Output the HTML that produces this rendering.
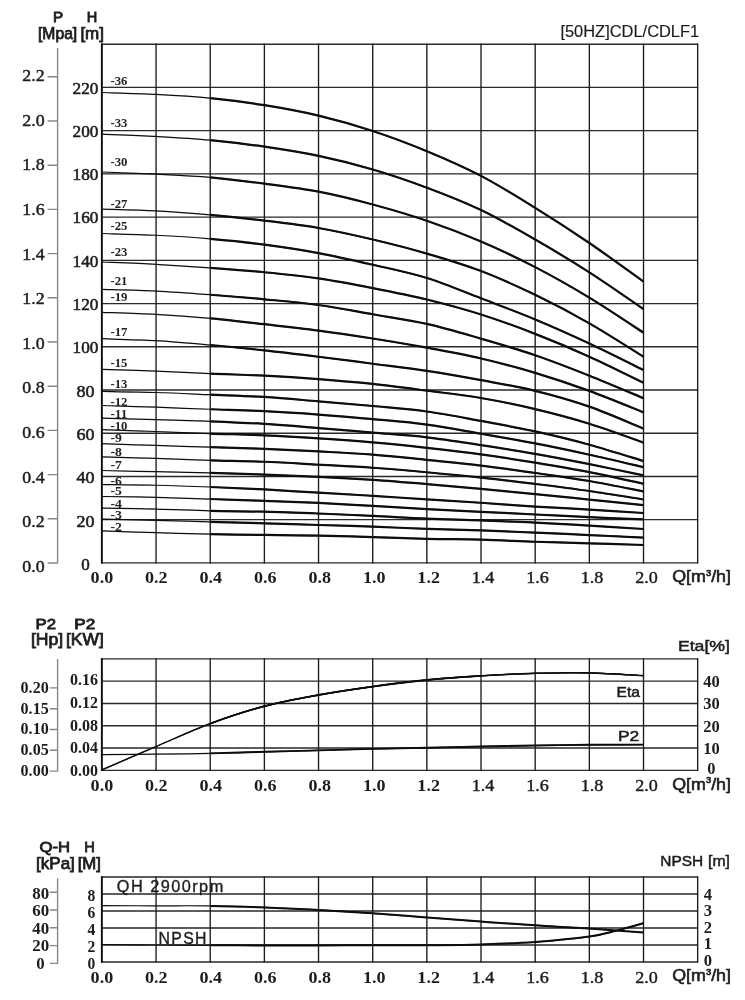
<!DOCTYPE html>
<html lang="en"><head><meta charset="utf-8"><title>CDL/CDLF1 50HZ performance curves</title>
<style>
html,body{margin:0;padding:0;background:#fff}
body{width:745px;height:1000px;overflow:hidden}
svg{display:block}
.fs{font-family:"Liberation Serif","DejaVu Serif",serif}
.fn{font-family:"Liberation Sans","DejaVu Sans",sans-serif}
</style></head><body>
<svg width="745" height="1000" viewBox="0 0 745 1000">
<rect width="745" height="1000" fill="#fff"/>
<defs><filter id="soft" x="0" y="0" width="745" height="1000" filterUnits="userSpaceOnUse"><feGaussianBlur stdDeviation="0.4"/></filter></defs>
<g filter="url(#soft)">
<path d="M101.4 562.9H698.16M101.4 519.67H698.16M101.4 476.45H698.16M101.4 433.23H698.16M101.4 390H698.16M101.4 346.77H698.16M101.4 303.55H698.16M101.4 260.32H698.16M101.4 217.1H698.16M101.4 173.88H698.16M101.4 130.65H698.16M101.4 87.43H698.16M101.4 44.2H698.16" fill="none" stroke="#2a2a2a" stroke-width="1.35"/>
<path d="M101.9 43.6V563.5M156.06 43.6V563.5M210.22 43.6V563.5M264.38 43.6V563.5M318.54 43.6V563.5M372.7 43.6V563.5M426.86 43.6V563.5M481.02 43.6V563.5M535.18 43.6V563.5M589.34 43.6V563.5M643.5 43.6V563.5M697.66 43.6V563.5" fill="none" stroke="#1c1c1c" stroke-width="1.35"/>
<path d="M101.75 43.6V563.5" fill="none" stroke="#0c0c0c" stroke-width="1.7"/>
<defs><clipPath id="c4"><rect x="210.22" y="0" width="433.58" height="1000"/></clipPath></defs>
<path d="M101.9 92.5C110.93 92.82 138.01 93.48 156.06 94.43C174.11 95.37 192.17 96.4 210.22 98.19C228.27 99.98 246.33 102.27 264.38 105.18C282.43 108.09 300.49 111.33 318.54 115.64C336.59 119.94 354.65 125.06 372.7 130.98C390.75 136.91 408.81 143.7 426.86 151.18C444.91 158.67 462.97 166.43 481.02 175.88C499.07 185.33 517.13 196.68 535.18 207.87C553.23 219.06 571.29 230.73 589.34 243.01C607.39 255.3 634.47 275.17 643.5 281.6M101.9 134.1C110.93 134.49 138.01 135.44 156.06 136.44C174.11 137.44 192.17 138.41 210.22 140.12C228.27 141.84 246.33 144.08 264.38 146.71C282.43 149.35 300.49 152.13 318.54 155.92C336.59 159.71 354.65 164.16 372.7 169.45C390.75 174.74 408.81 180.91 426.86 187.68C444.91 194.45 462.97 201.41 481.02 210.06C499.07 218.7 517.13 229.18 535.18 239.56C553.23 249.94 571.29 260.74 589.34 272.33C607.39 283.92 634.47 302.97 643.5 309.1M101.9 172C110.93 172.36 138.01 173.27 156.06 174.16C174.11 175.04 192.17 175.75 210.22 177.32C228.27 178.9 246.33 181.23 264.38 183.62C282.43 186.01 300.49 188.19 318.54 191.68C336.59 195.16 354.65 199.65 372.7 204.5C390.75 209.36 408.81 214.61 426.86 220.78C444.91 226.95 462.97 233.82 481.02 241.54C499.07 249.27 517.13 257.78 535.18 267.13C553.23 276.48 571.29 286.72 589.34 297.65C607.39 308.58 634.47 326.86 643.5 332.7M101.9 209.1C110.93 209.4 138.01 209.93 156.06 210.88C174.11 211.83 192.17 213.19 210.22 214.8C228.27 216.42 246.33 218.36 264.38 220.57C282.43 222.77 300.49 224.86 318.54 228.01C336.59 231.16 354.65 235.21 372.7 239.47C390.75 243.73 408.81 248.31 426.86 253.57C444.91 258.83 462.97 264.14 481.02 271.02C499.07 277.9 517.13 286.12 535.18 294.84C553.23 303.56 571.29 313.03 589.34 323.34C607.39 333.65 634.47 351.14 643.5 356.7M101.9 233.5C110.93 233.79 138.01 234.36 156.06 235.25C174.11 236.14 192.17 237.28 210.22 238.84C228.27 240.4 246.33 242.24 264.38 244.61C282.43 246.98 300.49 249.7 318.54 253.05C336.59 256.4 354.65 260.54 372.7 264.7C390.75 268.86 408.81 272.39 426.86 278C444.91 283.61 462.97 291.44 481.02 298.34C499.07 305.25 517.13 311.89 535.18 319.41C553.23 326.93 571.29 335.03 589.34 343.46C607.39 351.89 634.47 365.58 643.5 370M101.9 262C110.93 262.39 138.01 263.35 156.06 264.34C174.11 265.32 192.17 266.59 210.22 267.91C228.27 269.23 246.33 270.52 264.38 272.27C282.43 274.03 300.49 275.8 318.54 278.43C336.59 281.06 354.65 284.55 372.7 288.07C390.75 291.59 408.81 295.13 426.86 299.54C444.91 303.94 462.97 308.79 481.02 314.51C499.07 320.23 517.13 326.83 535.18 333.86C553.23 340.88 571.29 348.5 589.34 356.66C607.39 364.82 634.47 378.44 643.5 382.8M101.9 289.4C110.93 289.68 138.01 290.19 156.06 291.08C174.11 291.97 192.17 293.36 210.22 294.74C228.27 296.11 246.33 297.61 264.38 299.32C282.43 301.03 300.49 302.52 318.54 305.01C336.59 307.5 354.65 311.12 372.7 314.27C390.75 317.43 408.81 319.86 426.86 323.92C444.91 327.98 462.97 333.42 481.02 338.64C499.07 343.87 517.13 349.09 535.18 355.26C553.23 361.43 571.29 368.52 589.34 375.67C607.39 382.83 634.47 394.45 643.5 398.2M101.9 312.3C110.93 312.65 138.01 313.38 156.06 314.39C174.11 315.41 192.17 316.76 210.22 318.39C228.27 320.02 246.33 322.15 264.38 324.17C282.43 326.2 300.49 328.18 318.54 330.57C336.59 332.96 354.65 335.66 372.7 338.51C390.75 341.36 408.81 344.36 426.86 347.69C444.91 351.02 462.97 354.28 481.02 358.47C499.07 362.66 517.13 367.43 535.18 372.83C553.23 378.24 571.29 384.31 589.34 390.9C607.39 397.5 634.47 408.82 643.5 412.4M101.9 338.7C110.93 339.02 138.01 339.59 156.06 340.64C174.11 341.7 192.17 343.41 210.22 345.02C228.27 346.63 246.33 348.37 264.38 350.32C282.43 352.28 300.49 354.52 318.54 356.76C336.59 358.99 354.65 361.37 372.7 363.72C390.75 366.08 408.81 368.13 426.86 370.86C444.91 373.59 462.97 376.78 481.02 380.11C499.07 383.44 517.13 386.42 535.18 390.84C553.23 395.26 571.29 400.33 589.34 406.62C607.39 412.92 634.47 424.94 643.5 428.6M101.9 369.3C110.93 369.6 138.01 370.38 156.06 371.11C174.11 371.84 192.17 372.93 210.22 373.69C228.27 374.44 246.33 374.76 264.38 375.66C282.43 376.55 300.49 377.69 318.54 379.07C336.59 380.44 354.65 381.97 372.7 383.91C390.75 385.84 408.81 388.31 426.86 390.67C444.91 393.02 462.97 394.95 481.02 398.04C499.07 401.12 517.13 404.87 535.18 409.17C553.23 413.46 571.29 418.22 589.34 423.79C607.39 429.37 634.47 439.47 643.5 442.6M101.9 391.4C110.93 391.58 138.01 391.96 156.06 392.5C174.11 393.04 192.17 393.91 210.22 394.65C228.27 395.39 246.33 395.83 264.38 396.94C282.43 398.06 300.49 399.83 318.54 401.34C336.59 402.85 354.65 404.3 372.7 405.99C390.75 407.69 408.81 409.02 426.86 411.52C444.91 414.01 462.97 417.63 481.02 420.95C499.07 424.27 517.13 427.49 535.18 431.44C553.23 435.4 571.29 439.75 589.34 444.69C607.39 449.63 634.47 458.36 643.5 461.1M101.9 405.5C110.93 405.79 138.01 406.62 156.06 407.24C174.11 407.87 192.17 408.59 210.22 409.25C228.27 409.91 246.33 410.32 264.38 411.21C282.43 412.09 300.49 413.26 318.54 414.57C336.59 415.89 354.65 417.44 372.7 419.1C390.75 420.77 408.81 422.13 426.86 424.57C444.91 427.01 462.97 430.59 481.02 433.74C499.07 436.89 517.13 439.95 535.18 443.45C553.23 446.94 571.29 450.77 589.34 454.71C607.39 458.65 634.47 465.03 643.5 467.1M101.9 418.2C110.93 418.44 138.01 419.09 156.06 419.61C174.11 420.13 192.17 420.59 210.22 421.3C228.27 422.02 246.33 422.77 264.38 423.9C282.43 425.02 300.49 426.6 318.54 428.05C336.59 429.5 354.65 431.04 372.7 432.58C390.75 434.12 408.81 435.2 426.86 437.29C444.91 439.38 462.97 442.37 481.02 445.13C499.07 447.89 517.13 450.69 535.18 453.86C553.23 457.03 571.29 460.55 589.34 464.14C607.39 467.73 634.47 473.52 643.5 475.4M101.9 429.6C110.93 429.92 138.01 430.83 156.06 431.5C174.11 432.16 192.17 432.93 210.22 433.57C228.27 434.2 246.33 434.51 264.38 435.31C282.43 436.11 300.49 437.18 318.54 438.35C336.59 439.52 354.65 440.76 372.7 442.34C390.75 443.91 408.81 445.8 426.86 447.81C444.91 449.82 462.97 451.9 481.02 454.37C499.07 456.85 517.13 459.69 535.18 462.65C553.23 465.61 571.29 468.61 589.34 472.14C607.39 475.66 634.47 481.86 643.5 483.8M101.9 443.7C110.93 443.98 138.01 444.82 156.06 445.4C174.11 445.99 192.17 446.63 210.22 447.2C228.27 447.77 246.33 448.14 264.38 448.84C282.43 449.54 300.49 450.47 318.54 451.42C336.59 452.38 354.65 453.19 372.7 454.59C390.75 455.99 408.81 458.02 426.86 459.84C444.91 461.67 462.97 463.36 481.02 465.55C499.07 467.74 517.13 470.41 535.18 472.97C553.23 475.54 571.29 477.87 589.34 480.96C607.39 484.04 634.47 489.74 643.5 491.5M101.9 456.8C110.93 457.07 138.01 457.87 156.06 458.45C174.11 459.03 192.17 459.74 210.22 460.28C228.27 460.83 246.33 461.02 264.38 461.74C282.43 462.47 300.49 463.64 318.54 464.65C336.59 465.65 354.65 466.5 372.7 467.77C390.75 469.03 408.81 470.62 426.86 472.26C444.91 473.89 462.97 475.61 481.02 477.56C499.07 479.51 517.13 481.71 535.18 483.95C553.23 486.19 571.29 488.43 589.34 491.02C607.39 493.61 634.47 498.09 643.5 499.5M101.9 470.5C110.93 470.7 138.01 471.29 156.06 471.7C174.11 472.1 192.17 472.42 210.22 472.91C228.27 473.4 246.33 474 264.38 474.65C282.43 475.3 300.49 475.95 318.54 476.82C336.59 477.69 354.65 478.66 372.7 479.87C390.75 481.07 408.81 482.57 426.86 484.06C444.91 485.54 462.97 487.1 481.02 488.78C499.07 490.46 517.13 492.36 535.18 494.16C553.23 495.96 571.29 497.73 589.34 499.57C607.39 501.41 634.47 504.26 643.5 505.2M101.9 484.6C110.93 484.71 138.01 484.85 156.06 485.25C174.11 485.65 192.17 486.3 210.22 487C228.27 487.7 246.33 488.49 264.38 489.44C282.43 490.39 300.49 491.65 318.54 492.72C336.59 493.78 354.65 494.73 372.7 495.84C390.75 496.95 408.81 498.24 426.86 499.4C444.91 500.55 462.97 501.57 481.02 502.77C499.07 503.97 517.13 505.44 535.18 506.58C553.23 507.71 571.29 508.5 589.34 509.57C607.39 510.64 634.47 512.43 643.5 513M101.9 496.5C110.93 496.65 138.01 496.96 156.06 497.38C174.11 497.8 192.17 498.44 210.22 499.01C228.27 499.58 246.33 500.15 264.38 500.81C282.43 501.47 300.49 502.1 318.54 502.95C336.59 503.8 354.65 504.88 372.7 505.91C390.75 506.94 408.81 508.16 426.86 509.14C444.91 510.12 462.97 510.9 481.02 511.79C499.07 512.68 517.13 513.58 535.18 514.48C553.23 515.38 571.29 516.39 589.34 517.21C607.39 518.03 634.47 519.03 643.5 519.4M101.9 508.1C110.93 508.25 138.01 508.55 156.06 509.02C174.11 509.49 192.17 510.47 210.22 510.92C228.27 511.37 246.33 511.27 264.38 511.7C282.43 512.13 300.49 512.82 318.54 513.52C336.59 514.23 354.65 515.06 372.7 515.91C390.75 516.77 408.81 517.93 426.86 518.67C444.91 519.4 462.97 519.66 481.02 520.3C499.07 520.95 517.13 521.66 535.18 522.54C553.23 523.41 571.29 524.47 589.34 525.55C607.39 526.62 634.47 528.42 643.5 529M101.9 519.2C110.93 519.39 138.01 519.93 156.06 520.36C174.11 520.79 192.17 521.29 210.22 521.79C228.27 522.28 246.33 522.77 264.38 523.31C282.43 523.85 300.49 524.44 318.54 525C336.59 525.56 354.65 526.02 372.7 526.66C390.75 527.31 408.81 528.24 426.86 528.87C444.91 529.5 462.97 529.84 481.02 530.47C499.07 531.09 517.13 531.86 535.18 532.63C553.23 533.4 571.29 534.23 589.34 535.06C607.39 535.89 634.47 537.18 643.5 537.6M101.9 530.9C110.93 531.21 138.01 532.19 156.06 532.74C174.11 533.29 192.17 533.83 210.22 534.2C228.27 534.56 246.33 534.69 264.38 534.94C282.43 535.18 300.49 535.31 318.54 535.66C336.59 536.02 354.65 536.56 372.7 537.09C390.75 537.62 408.81 538.43 426.86 538.85C444.91 539.28 462.97 539.18 481.02 539.66C499.07 540.14 517.13 541.14 535.18 541.76C553.23 542.37 571.29 542.81 589.34 543.35C607.39 543.89 634.47 544.72 643.5 545" fill="none" stroke="#0a0a0a" stroke-width="1.25"/>
<path d="M101.9 92.5C110.93 92.82 138.01 93.48 156.06 94.43C174.11 95.37 192.17 96.4 210.22 98.19C228.27 99.98 246.33 102.27 264.38 105.18C282.43 108.09 300.49 111.33 318.54 115.64C336.59 119.94 354.65 125.06 372.7 130.98C390.75 136.91 408.81 143.7 426.86 151.18C444.91 158.67 462.97 166.43 481.02 175.88C499.07 185.33 517.13 196.68 535.18 207.87C553.23 219.06 571.29 230.73 589.34 243.01C607.39 255.3 634.47 275.17 643.5 281.6M101.9 134.1C110.93 134.49 138.01 135.44 156.06 136.44C174.11 137.44 192.17 138.41 210.22 140.12C228.27 141.84 246.33 144.08 264.38 146.71C282.43 149.35 300.49 152.13 318.54 155.92C336.59 159.71 354.65 164.16 372.7 169.45C390.75 174.74 408.81 180.91 426.86 187.68C444.91 194.45 462.97 201.41 481.02 210.06C499.07 218.7 517.13 229.18 535.18 239.56C553.23 249.94 571.29 260.74 589.34 272.33C607.39 283.92 634.47 302.97 643.5 309.1M101.9 172C110.93 172.36 138.01 173.27 156.06 174.16C174.11 175.04 192.17 175.75 210.22 177.32C228.27 178.9 246.33 181.23 264.38 183.62C282.43 186.01 300.49 188.19 318.54 191.68C336.59 195.16 354.65 199.65 372.7 204.5C390.75 209.36 408.81 214.61 426.86 220.78C444.91 226.95 462.97 233.82 481.02 241.54C499.07 249.27 517.13 257.78 535.18 267.13C553.23 276.48 571.29 286.72 589.34 297.65C607.39 308.58 634.47 326.86 643.5 332.7M101.9 209.1C110.93 209.4 138.01 209.93 156.06 210.88C174.11 211.83 192.17 213.19 210.22 214.8C228.27 216.42 246.33 218.36 264.38 220.57C282.43 222.77 300.49 224.86 318.54 228.01C336.59 231.16 354.65 235.21 372.7 239.47C390.75 243.73 408.81 248.31 426.86 253.57C444.91 258.83 462.97 264.14 481.02 271.02C499.07 277.9 517.13 286.12 535.18 294.84C553.23 303.56 571.29 313.03 589.34 323.34C607.39 333.65 634.47 351.14 643.5 356.7M101.9 233.5C110.93 233.79 138.01 234.36 156.06 235.25C174.11 236.14 192.17 237.28 210.22 238.84C228.27 240.4 246.33 242.24 264.38 244.61C282.43 246.98 300.49 249.7 318.54 253.05C336.59 256.4 354.65 260.54 372.7 264.7C390.75 268.86 408.81 272.39 426.86 278C444.91 283.61 462.97 291.44 481.02 298.34C499.07 305.25 517.13 311.89 535.18 319.41C553.23 326.93 571.29 335.03 589.34 343.46C607.39 351.89 634.47 365.58 643.5 370M101.9 262C110.93 262.39 138.01 263.35 156.06 264.34C174.11 265.32 192.17 266.59 210.22 267.91C228.27 269.23 246.33 270.52 264.38 272.27C282.43 274.03 300.49 275.8 318.54 278.43C336.59 281.06 354.65 284.55 372.7 288.07C390.75 291.59 408.81 295.13 426.86 299.54C444.91 303.94 462.97 308.79 481.02 314.51C499.07 320.23 517.13 326.83 535.18 333.86C553.23 340.88 571.29 348.5 589.34 356.66C607.39 364.82 634.47 378.44 643.5 382.8M101.9 289.4C110.93 289.68 138.01 290.19 156.06 291.08C174.11 291.97 192.17 293.36 210.22 294.74C228.27 296.11 246.33 297.61 264.38 299.32C282.43 301.03 300.49 302.52 318.54 305.01C336.59 307.5 354.65 311.12 372.7 314.27C390.75 317.43 408.81 319.86 426.86 323.92C444.91 327.98 462.97 333.42 481.02 338.64C499.07 343.87 517.13 349.09 535.18 355.26C553.23 361.43 571.29 368.52 589.34 375.67C607.39 382.83 634.47 394.45 643.5 398.2M101.9 312.3C110.93 312.65 138.01 313.38 156.06 314.39C174.11 315.41 192.17 316.76 210.22 318.39C228.27 320.02 246.33 322.15 264.38 324.17C282.43 326.2 300.49 328.18 318.54 330.57C336.59 332.96 354.65 335.66 372.7 338.51C390.75 341.36 408.81 344.36 426.86 347.69C444.91 351.02 462.97 354.28 481.02 358.47C499.07 362.66 517.13 367.43 535.18 372.83C553.23 378.24 571.29 384.31 589.34 390.9C607.39 397.5 634.47 408.82 643.5 412.4M101.9 338.7C110.93 339.02 138.01 339.59 156.06 340.64C174.11 341.7 192.17 343.41 210.22 345.02C228.27 346.63 246.33 348.37 264.38 350.32C282.43 352.28 300.49 354.52 318.54 356.76C336.59 358.99 354.65 361.37 372.7 363.72C390.75 366.08 408.81 368.13 426.86 370.86C444.91 373.59 462.97 376.78 481.02 380.11C499.07 383.44 517.13 386.42 535.18 390.84C553.23 395.26 571.29 400.33 589.34 406.62C607.39 412.92 634.47 424.94 643.5 428.6M101.9 369.3C110.93 369.6 138.01 370.38 156.06 371.11C174.11 371.84 192.17 372.93 210.22 373.69C228.27 374.44 246.33 374.76 264.38 375.66C282.43 376.55 300.49 377.69 318.54 379.07C336.59 380.44 354.65 381.97 372.7 383.91C390.75 385.84 408.81 388.31 426.86 390.67C444.91 393.02 462.97 394.95 481.02 398.04C499.07 401.12 517.13 404.87 535.18 409.17C553.23 413.46 571.29 418.22 589.34 423.79C607.39 429.37 634.47 439.47 643.5 442.6M101.9 391.4C110.93 391.58 138.01 391.96 156.06 392.5C174.11 393.04 192.17 393.91 210.22 394.65C228.27 395.39 246.33 395.83 264.38 396.94C282.43 398.06 300.49 399.83 318.54 401.34C336.59 402.85 354.65 404.3 372.7 405.99C390.75 407.69 408.81 409.02 426.86 411.52C444.91 414.01 462.97 417.63 481.02 420.95C499.07 424.27 517.13 427.49 535.18 431.44C553.23 435.4 571.29 439.75 589.34 444.69C607.39 449.63 634.47 458.36 643.5 461.1M101.9 405.5C110.93 405.79 138.01 406.62 156.06 407.24C174.11 407.87 192.17 408.59 210.22 409.25C228.27 409.91 246.33 410.32 264.38 411.21C282.43 412.09 300.49 413.26 318.54 414.57C336.59 415.89 354.65 417.44 372.7 419.1C390.75 420.77 408.81 422.13 426.86 424.57C444.91 427.01 462.97 430.59 481.02 433.74C499.07 436.89 517.13 439.95 535.18 443.45C553.23 446.94 571.29 450.77 589.34 454.71C607.39 458.65 634.47 465.03 643.5 467.1M101.9 418.2C110.93 418.44 138.01 419.09 156.06 419.61C174.11 420.13 192.17 420.59 210.22 421.3C228.27 422.02 246.33 422.77 264.38 423.9C282.43 425.02 300.49 426.6 318.54 428.05C336.59 429.5 354.65 431.04 372.7 432.58C390.75 434.12 408.81 435.2 426.86 437.29C444.91 439.38 462.97 442.37 481.02 445.13C499.07 447.89 517.13 450.69 535.18 453.86C553.23 457.03 571.29 460.55 589.34 464.14C607.39 467.73 634.47 473.52 643.5 475.4M101.9 429.6C110.93 429.92 138.01 430.83 156.06 431.5C174.11 432.16 192.17 432.93 210.22 433.57C228.27 434.2 246.33 434.51 264.38 435.31C282.43 436.11 300.49 437.18 318.54 438.35C336.59 439.52 354.65 440.76 372.7 442.34C390.75 443.91 408.81 445.8 426.86 447.81C444.91 449.82 462.97 451.9 481.02 454.37C499.07 456.85 517.13 459.69 535.18 462.65C553.23 465.61 571.29 468.61 589.34 472.14C607.39 475.66 634.47 481.86 643.5 483.8M101.9 443.7C110.93 443.98 138.01 444.82 156.06 445.4C174.11 445.99 192.17 446.63 210.22 447.2C228.27 447.77 246.33 448.14 264.38 448.84C282.43 449.54 300.49 450.47 318.54 451.42C336.59 452.38 354.65 453.19 372.7 454.59C390.75 455.99 408.81 458.02 426.86 459.84C444.91 461.67 462.97 463.36 481.02 465.55C499.07 467.74 517.13 470.41 535.18 472.97C553.23 475.54 571.29 477.87 589.34 480.96C607.39 484.04 634.47 489.74 643.5 491.5M101.9 456.8C110.93 457.07 138.01 457.87 156.06 458.45C174.11 459.03 192.17 459.74 210.22 460.28C228.27 460.83 246.33 461.02 264.38 461.74C282.43 462.47 300.49 463.64 318.54 464.65C336.59 465.65 354.65 466.5 372.7 467.77C390.75 469.03 408.81 470.62 426.86 472.26C444.91 473.89 462.97 475.61 481.02 477.56C499.07 479.51 517.13 481.71 535.18 483.95C553.23 486.19 571.29 488.43 589.34 491.02C607.39 493.61 634.47 498.09 643.5 499.5M101.9 470.5C110.93 470.7 138.01 471.29 156.06 471.7C174.11 472.1 192.17 472.42 210.22 472.91C228.27 473.4 246.33 474 264.38 474.65C282.43 475.3 300.49 475.95 318.54 476.82C336.59 477.69 354.65 478.66 372.7 479.87C390.75 481.07 408.81 482.57 426.86 484.06C444.91 485.54 462.97 487.1 481.02 488.78C499.07 490.46 517.13 492.36 535.18 494.16C553.23 495.96 571.29 497.73 589.34 499.57C607.39 501.41 634.47 504.26 643.5 505.2M101.9 484.6C110.93 484.71 138.01 484.85 156.06 485.25C174.11 485.65 192.17 486.3 210.22 487C228.27 487.7 246.33 488.49 264.38 489.44C282.43 490.39 300.49 491.65 318.54 492.72C336.59 493.78 354.65 494.73 372.7 495.84C390.75 496.95 408.81 498.24 426.86 499.4C444.91 500.55 462.97 501.57 481.02 502.77C499.07 503.97 517.13 505.44 535.18 506.58C553.23 507.71 571.29 508.5 589.34 509.57C607.39 510.64 634.47 512.43 643.5 513M101.9 496.5C110.93 496.65 138.01 496.96 156.06 497.38C174.11 497.8 192.17 498.44 210.22 499.01C228.27 499.58 246.33 500.15 264.38 500.81C282.43 501.47 300.49 502.1 318.54 502.95C336.59 503.8 354.65 504.88 372.7 505.91C390.75 506.94 408.81 508.16 426.86 509.14C444.91 510.12 462.97 510.9 481.02 511.79C499.07 512.68 517.13 513.58 535.18 514.48C553.23 515.38 571.29 516.39 589.34 517.21C607.39 518.03 634.47 519.03 643.5 519.4M101.9 508.1C110.93 508.25 138.01 508.55 156.06 509.02C174.11 509.49 192.17 510.47 210.22 510.92C228.27 511.37 246.33 511.27 264.38 511.7C282.43 512.13 300.49 512.82 318.54 513.52C336.59 514.23 354.65 515.06 372.7 515.91C390.75 516.77 408.81 517.93 426.86 518.67C444.91 519.4 462.97 519.66 481.02 520.3C499.07 520.95 517.13 521.66 535.18 522.54C553.23 523.41 571.29 524.47 589.34 525.55C607.39 526.62 634.47 528.42 643.5 529M101.9 519.2C110.93 519.39 138.01 519.93 156.06 520.36C174.11 520.79 192.17 521.29 210.22 521.79C228.27 522.28 246.33 522.77 264.38 523.31C282.43 523.85 300.49 524.44 318.54 525C336.59 525.56 354.65 526.02 372.7 526.66C390.75 527.31 408.81 528.24 426.86 528.87C444.91 529.5 462.97 529.84 481.02 530.47C499.07 531.09 517.13 531.86 535.18 532.63C553.23 533.4 571.29 534.23 589.34 535.06C607.39 535.89 634.47 537.18 643.5 537.6M101.9 530.9C110.93 531.21 138.01 532.19 156.06 532.74C174.11 533.29 192.17 533.83 210.22 534.2C228.27 534.56 246.33 534.69 264.38 534.94C282.43 535.18 300.49 535.31 318.54 535.66C336.59 536.02 354.65 536.56 372.7 537.09C390.75 537.62 408.81 538.43 426.86 538.85C444.91 539.28 462.97 539.18 481.02 539.66C499.07 540.14 517.13 541.14 535.18 541.76C553.23 542.37 571.29 542.81 589.34 543.35C607.39 543.89 634.47 544.72 643.5 545" fill="none" stroke="#0a0a0a" stroke-width="2.2" clip-path="url(#c4)"/>
<text class="fs" x="110.4" y="84.9" font-size="11.5" font-weight="bold" textLength="17" lengthAdjust="spacingAndGlyphs" fill="#222">-36</text>
<text class="fs" x="110.4" y="127.3" font-size="11.5" font-weight="bold" textLength="17" lengthAdjust="spacingAndGlyphs" fill="#222">-33</text>
<text class="fs" x="110.4" y="165.8" font-size="11.5" font-weight="bold" textLength="17" lengthAdjust="spacingAndGlyphs" fill="#222">-30</text>
<text class="fs" x="110.4" y="208.3" font-size="11.5" font-weight="bold" textLength="17" lengthAdjust="spacingAndGlyphs" fill="#222">-27</text>
<text class="fs" x="110.4" y="230.3" font-size="11.5" font-weight="bold" textLength="17" lengthAdjust="spacingAndGlyphs" fill="#222">-25</text>
<text class="fs" x="110.4" y="256.1" font-size="11.5" font-weight="bold" textLength="17" lengthAdjust="spacingAndGlyphs" fill="#222">-23</text>
<text class="fs" x="110.4" y="284.7" font-size="11.5" font-weight="bold" textLength="17" lengthAdjust="spacingAndGlyphs" fill="#222">-21</text>
<text class="fs" x="110.4" y="301.3" font-size="11.5" font-weight="bold" textLength="17" lengthAdjust="spacingAndGlyphs" fill="#222">-19</text>
<text class="fs" x="110.4" y="335.5" font-size="11.5" font-weight="bold" textLength="17" lengthAdjust="spacingAndGlyphs" fill="#222">-17</text>
<text class="fs" x="110.4" y="366.9" font-size="11.5" font-weight="bold" textLength="17" lengthAdjust="spacingAndGlyphs" fill="#222">-15</text>
<text class="fs" x="110.4" y="388.3" font-size="11.5" font-weight="bold" textLength="17" lengthAdjust="spacingAndGlyphs" fill="#222">-13</text>
<text class="fs" x="110.4" y="405.7" font-size="11.5" font-weight="bold" textLength="17" lengthAdjust="spacingAndGlyphs" fill="#222">-12</text>
<text class="fs" x="110.4" y="417.5" font-size="11.5" font-weight="bold" textLength="17" lengthAdjust="spacingAndGlyphs" fill="#222">-11</text>
<text class="fs" x="110.4" y="429.6" font-size="11.5" font-weight="bold" textLength="17" lengthAdjust="spacingAndGlyphs" fill="#222">-10</text>
<text class="fs" x="110.4" y="442.2" font-size="11.5" font-weight="bold" textLength="11.5" lengthAdjust="spacingAndGlyphs" fill="#222">-9</text>
<text class="fs" x="110.4" y="455.7" font-size="11.5" font-weight="bold" textLength="11.5" lengthAdjust="spacingAndGlyphs" fill="#222">-8</text>
<text class="fs" x="110.4" y="469.4" font-size="11.5" font-weight="bold" textLength="11.5" lengthAdjust="spacingAndGlyphs" fill="#222">-7</text>
<text class="fs" x="110.4" y="484.9" font-size="11.5" font-weight="bold" textLength="11.5" lengthAdjust="spacingAndGlyphs" fill="#222">-6</text>
<text class="fs" x="110.4" y="494.6" font-size="11.5" font-weight="bold" textLength="11.5" lengthAdjust="spacingAndGlyphs" fill="#222">-5</text>
<text class="fs" x="110.4" y="508" font-size="11.5" font-weight="bold" textLength="11.5" lengthAdjust="spacingAndGlyphs" fill="#222">-4</text>
<text class="fs" x="110.4" y="519.3" font-size="11.5" font-weight="bold" textLength="11.5" lengthAdjust="spacingAndGlyphs" fill="#222">-3</text>
<text class="fs" x="110.4" y="530.8" font-size="11.5" font-weight="bold" textLength="11.5" lengthAdjust="spacingAndGlyphs" fill="#222">-2</text>
<path d="M57.6 48V563.4M47.6 563H57.6M47.6 518.8H57.6M47.6 474.6H57.6M47.6 430.4H57.6M47.6 386.2H57.6M47.6 342H57.6M47.6 297.8H57.6M47.6 253.6H57.6M47.6 209.4H57.6M47.6 165.2H57.6M47.6 121H57.6M47.6 76.8H57.6" fill="none" stroke="#878787" stroke-width="1.4"/>
<text class="fs" x="22.3" y="571.7" font-size="16" textLength="22.3" lengthAdjust="spacingAndGlyphs" stroke="#1c1c1c" stroke-width="0.42" fill="#1c1c1c">0.0</text>
<text class="fs" x="22.3" y="527.12" font-size="16" textLength="22.3" lengthAdjust="spacingAndGlyphs" stroke="#1c1c1c" stroke-width="0.42" fill="#1c1c1c">0.2</text>
<text class="fs" x="22.3" y="482.54" font-size="16" textLength="22.3" lengthAdjust="spacingAndGlyphs" stroke="#1c1c1c" stroke-width="0.42" fill="#1c1c1c">0.4</text>
<text class="fs" x="22.3" y="437.96" font-size="16" textLength="22.3" lengthAdjust="spacingAndGlyphs" stroke="#1c1c1c" stroke-width="0.42" fill="#1c1c1c">0.6</text>
<text class="fs" x="22.3" y="393.38" font-size="16" textLength="22.3" lengthAdjust="spacingAndGlyphs" stroke="#1c1c1c" stroke-width="0.42" fill="#1c1c1c">0.8</text>
<text class="fs" x="22.3" y="348.8" font-size="16" textLength="22.3" lengthAdjust="spacingAndGlyphs" stroke="#1c1c1c" stroke-width="0.42" fill="#1c1c1c">1.0</text>
<text class="fs" x="22.3" y="304.22" font-size="16" textLength="22.3" lengthAdjust="spacingAndGlyphs" stroke="#1c1c1c" stroke-width="0.42" fill="#1c1c1c">1.2</text>
<text class="fs" x="22.3" y="259.64" font-size="16" textLength="22.3" lengthAdjust="spacingAndGlyphs" stroke="#1c1c1c" stroke-width="0.42" fill="#1c1c1c">1.4</text>
<text class="fs" x="22.3" y="215.06" font-size="16" textLength="22.3" lengthAdjust="spacingAndGlyphs" stroke="#1c1c1c" stroke-width="0.42" fill="#1c1c1c">1.6</text>
<text class="fs" x="22.3" y="170.48" font-size="16" textLength="22.3" lengthAdjust="spacingAndGlyphs" stroke="#1c1c1c" stroke-width="0.42" fill="#1c1c1c">1.8</text>
<text class="fs" x="22.3" y="125.9" font-size="16" textLength="22.3" lengthAdjust="spacingAndGlyphs" stroke="#1c1c1c" stroke-width="0.42" fill="#1c1c1c">2.0</text>
<text class="fs" x="22.3" y="81.32" font-size="16" textLength="22.3" lengthAdjust="spacingAndGlyphs" stroke="#1c1c1c" stroke-width="0.42" fill="#1c1c1c">2.2</text>
<text class="fs" x="81.25" y="569.8" font-size="16.5" textLength="8.5" lengthAdjust="spacingAndGlyphs" stroke="#1c1c1c" stroke-width="0.55" fill="#1c1c1c">0</text>
<text class="fs" x="76.5" y="526.5" font-size="16.5" textLength="18" lengthAdjust="spacingAndGlyphs" stroke="#1c1c1c" stroke-width="0.55" fill="#1c1c1c">20</text>
<text class="fs" x="76.5" y="483.2" font-size="16.5" textLength="18" lengthAdjust="spacingAndGlyphs" stroke="#1c1c1c" stroke-width="0.55" fill="#1c1c1c">40</text>
<text class="fs" x="76.5" y="439.9" font-size="16.5" textLength="18" lengthAdjust="spacingAndGlyphs" stroke="#1c1c1c" stroke-width="0.55" fill="#1c1c1c">60</text>
<text class="fs" x="76.5" y="396.6" font-size="16.5" textLength="18" lengthAdjust="spacingAndGlyphs" stroke="#1c1c1c" stroke-width="0.55" fill="#1c1c1c">80</text>
<text class="fs" x="72.6" y="353.3" font-size="16.5" textLength="25.8" lengthAdjust="spacingAndGlyphs" stroke="#1c1c1c" stroke-width="0.55" fill="#1c1c1c">100</text>
<text class="fs" x="72.6" y="310" font-size="16.5" textLength="25.8" lengthAdjust="spacingAndGlyphs" stroke="#1c1c1c" stroke-width="0.55" fill="#1c1c1c">120</text>
<text class="fs" x="72.6" y="266.7" font-size="16.5" textLength="25.8" lengthAdjust="spacingAndGlyphs" stroke="#1c1c1c" stroke-width="0.55" fill="#1c1c1c">140</text>
<text class="fs" x="72.6" y="223.4" font-size="16.5" textLength="25.8" lengthAdjust="spacingAndGlyphs" stroke="#1c1c1c" stroke-width="0.55" fill="#1c1c1c">160</text>
<text class="fs" x="72.6" y="180.1" font-size="16.5" textLength="25.8" lengthAdjust="spacingAndGlyphs" stroke="#1c1c1c" stroke-width="0.55" fill="#1c1c1c">180</text>
<text class="fs" x="72.6" y="136.8" font-size="16.5" textLength="25.8" lengthAdjust="spacingAndGlyphs" stroke="#1c1c1c" stroke-width="0.55" fill="#1c1c1c">200</text>
<text class="fs" x="72.6" y="93.5" font-size="16.5" textLength="25.8" lengthAdjust="spacingAndGlyphs" stroke="#1c1c1c" stroke-width="0.55" fill="#1c1c1c">220</text>
<text class="fs" x="90.6" y="583.2" font-size="16" font-weight="bold" textLength="22.6" lengthAdjust="spacingAndGlyphs" fill="#1c1c1c">0.0</text>
<text class="fs" x="145.06" y="583.2" font-size="16" font-weight="bold" textLength="22.6" lengthAdjust="spacingAndGlyphs" fill="#1c1c1c">0.2</text>
<text class="fs" x="199.52" y="583.2" font-size="16" font-weight="bold" textLength="22.6" lengthAdjust="spacingAndGlyphs" fill="#1c1c1c">0.4</text>
<text class="fs" x="253.98" y="583.2" font-size="16" font-weight="bold" textLength="22.6" lengthAdjust="spacingAndGlyphs" fill="#1c1c1c">0.6</text>
<text class="fs" x="308.44" y="583.2" font-size="16" font-weight="bold" textLength="22.6" lengthAdjust="spacingAndGlyphs" fill="#1c1c1c">0.8</text>
<text class="fs" x="362.9" y="583.2" font-size="16" font-weight="bold" textLength="22.6" lengthAdjust="spacingAndGlyphs" fill="#1c1c1c">1.0</text>
<text class="fs" x="417.36" y="583.2" font-size="16" font-weight="bold" textLength="22.6" lengthAdjust="spacingAndGlyphs" fill="#1c1c1c">1.2</text>
<text class="fs" x="471.82" y="583.2" font-size="16" textLength="22.6" lengthAdjust="spacingAndGlyphs" stroke="#1c1c1c" stroke-width="0.4" fill="#1c1c1c">1.4</text>
<text class="fs" x="526.28" y="583.2" font-size="16" textLength="22.6" lengthAdjust="spacingAndGlyphs" stroke="#1c1c1c" stroke-width="0.4" fill="#1c1c1c">1.6</text>
<text class="fs" x="580.74" y="583.2" font-size="16" textLength="22.6" lengthAdjust="spacingAndGlyphs" stroke="#1c1c1c" stroke-width="0.4" fill="#1c1c1c">1.8</text>
<text class="fs" x="635.2" y="583.2" font-size="16" textLength="22.6" lengthAdjust="spacingAndGlyphs" stroke="#1c1c1c" stroke-width="0.4" fill="#1c1c1c">2.0</text>
<text class="fn" x="672.2" y="582.1" font-size="16.2" textLength="58.8" lengthAdjust="spacingAndGlyphs" stroke="#1c1c1c" stroke-width="0.6" fill="#1c1c1c">Q[m<tspan font-size="8.5" dy="-6.5">3</tspan><tspan dy="6.5">/h]</tspan></text>
<text class="fn" x="53" y="21.7" font-size="15.2" textLength="10.2" lengthAdjust="spacingAndGlyphs" stroke="#1c1c1c" stroke-width="0.85" fill="#1c1c1c">P</text>
<text class="fn" x="86.8" y="21.7" font-size="15.2" textLength="10.5" lengthAdjust="spacingAndGlyphs" stroke="#1c1c1c" stroke-width="0.85" fill="#1c1c1c">H</text>
<text class="fn" x="38" y="39.1" font-size="15.6" textLength="39.2" lengthAdjust="spacingAndGlyphs" stroke="#1c1c1c" stroke-width="0.75" fill="#1c1c1c">[Mpa]</text>
<text class="fn" x="80.4" y="39.1" font-size="15.6" textLength="23.6" lengthAdjust="spacingAndGlyphs" stroke="#1c1c1c" stroke-width="0.75" fill="#1c1c1c">[m]</text>
<text class="fn" x="560.4" y="37.1" font-size="15.8" textLength="138.8" lengthAdjust="spacingAndGlyphs" stroke="#1c1c1c" stroke-width="0.15" fill="#1c1c1c">[50HZ]CDL/CDLF1</text>
<path d="M101.4 770.3H698.16M101.4 748.02H698.16M101.4 725.74H698.16M101.4 703.46H698.16M101.4 681.18H698.16M101.4 658.9H698.16" fill="none" stroke="#2a2a2a" stroke-width="1.35"/>
<path d="M101.9 658.3V770.9M156.06 658.3V770.9M210.22 658.3V770.9M264.38 658.3V770.9M318.54 658.3V770.9M372.7 658.3V770.9M426.86 658.3V770.9M481.02 658.3V770.9M535.18 658.3V770.9M589.34 658.3V770.9M643.5 658.3V770.9M697.66 658.3V770.9" fill="none" stroke="#1c1c1c" stroke-width="1.35"/>
<path d="M101.75 658.3V770.9" fill="none" stroke="#0c0c0c" stroke-width="1.7"/>
<path d="M101.9 769.9C110.93 766 138.01 754.22 156.06 746.5C174.11 738.78 192.17 730.32 210.22 723.6C228.27 716.88 246.33 710.97 264.38 706.2C282.43 701.43 300.49 698.27 318.54 695C336.59 691.73 354.65 689.1 372.7 686.6C390.75 684.1 408.81 681.8 426.86 680C444.91 678.2 462.97 676.92 481.02 675.8C499.07 674.68 517.13 673.78 535.18 673.3C553.23 672.82 571.29 672.52 589.34 672.9C607.39 673.28 634.47 675.15 643.5 675.6" fill="none" stroke="#0a0a0a" stroke-width="1.2"/>
<clipPath id="k4_20"><rect x="210.22" y="0" width="433.58" height="1000"/></clipPath>
<path d="M101.9 769.9C110.93 766 138.01 754.22 156.06 746.5C174.11 738.78 192.17 730.32 210.22 723.6C228.27 716.88 246.33 710.97 264.38 706.2C282.43 701.43 300.49 698.27 318.54 695C336.59 691.73 354.65 689.1 372.7 686.6C390.75 684.1 408.81 681.8 426.86 680C444.91 678.2 462.97 676.92 481.02 675.8C499.07 674.68 517.13 673.78 535.18 673.3C553.23 672.82 571.29 672.52 589.34 672.9C607.39 673.28 634.47 675.15 643.5 675.6" fill="none" stroke="#0a0a0a" stroke-width="1.5" clip-path="url(#k4_20)"/>
<path d="M101.9 769.9C110.93 766 138.01 754.22 156.06 746.5C174.11 738.78 192.17 730.32 210.22 723.6C228.27 716.88 246.33 710.97 264.38 706.2C282.43 701.43 300.49 698.27 318.54 695C336.59 691.73 354.65 689.1 372.7 686.6C390.75 684.1 408.81 681.8 426.86 680C444.91 678.2 462.97 676.92 481.02 675.8C499.07 674.68 517.13 673.78 535.18 673.3C553.23 672.82 571.29 672.52 589.34 672.9C607.39 673.28 634.47 675.15 643.5 675.6" fill="none" stroke="#0a0a0a" stroke-width="1.2"/>
<clipPath id="k4_14"><rect x="210.22" y="0" width="271.1" height="1000"/></clipPath>
<path d="M101.9 769.9C110.93 766 138.01 754.22 156.06 746.5C174.11 738.78 192.17 730.32 210.22 723.6C228.27 716.88 246.33 710.97 264.38 706.2C282.43 701.43 300.49 698.27 318.54 695C336.59 691.73 354.65 689.1 372.7 686.6C390.75 684.1 408.81 681.8 426.86 680C444.91 678.2 462.97 676.92 481.02 675.8C499.07 674.68 517.13 673.78 535.18 673.3C553.23 672.82 571.29 672.52 589.34 672.9C607.39 673.28 634.47 675.15 643.5 675.6" fill="none" stroke="#0a0a0a" stroke-width="1.8" clip-path="url(#k4_14)"/>
<path d="M101.9 754.5C110.93 754.43 138.01 754.28 156.06 754.1C174.11 753.92 192.17 753.78 210.22 753.4C228.27 753.02 246.33 752.3 264.38 751.8C282.43 751.3 300.49 750.88 318.54 750.4C336.59 749.92 354.65 749.33 372.7 748.9C390.75 748.47 408.81 748.2 426.86 747.8C444.91 747.4 462.97 746.88 481.02 746.5C499.07 746.12 517.13 745.78 535.18 745.5C553.23 745.22 571.29 744.95 589.34 744.8C607.39 744.65 634.47 744.63 643.5 744.6" fill="none" stroke="#0a0a0a" stroke-width="1.25"/>
<path d="M101.9 754.5C110.93 754.43 138.01 754.28 156.06 754.1C174.11 753.92 192.17 753.78 210.22 753.4C228.27 753.02 246.33 752.3 264.38 751.8C282.43 751.3 300.49 750.88 318.54 750.4C336.59 749.92 354.65 749.33 372.7 748.9C390.75 748.47 408.81 748.2 426.86 747.8C444.91 747.4 462.97 746.88 481.02 746.5C499.07 746.12 517.13 745.78 535.18 745.5C553.23 745.22 571.29 744.95 589.34 744.8C607.39 744.65 634.47 744.63 643.5 744.6" fill="none" stroke="#0a0a0a" stroke-width="1.9" clip-path="url(#k4_20)"/>
<path d="M57.6 659V771.4M49.8 771.1H57.6M49.8 750.3H57.6M49.8 729.5H57.6M49.8 708.7H57.6M49.8 687.9H57.6" fill="none" stroke="#878787" stroke-width="1.4"/>
<text class="fs" x="20.6" y="776" font-size="16" font-weight="bold" textLength="28.1" lengthAdjust="spacingAndGlyphs" fill="#1c1c1c">0.00</text>
<text class="fs" x="20.6" y="755.2" font-size="16" font-weight="bold" textLength="28.1" lengthAdjust="spacingAndGlyphs" fill="#1c1c1c">0.05</text>
<text class="fs" x="20.6" y="734.4" font-size="16" font-weight="bold" textLength="28.1" lengthAdjust="spacingAndGlyphs" fill="#1c1c1c">0.10</text>
<text class="fs" x="20.6" y="713.6" font-size="16" font-weight="bold" textLength="28.1" lengthAdjust="spacingAndGlyphs" fill="#1c1c1c">0.15</text>
<text class="fs" x="20.6" y="692.8" font-size="16" font-weight="bold" textLength="28.1" lengthAdjust="spacingAndGlyphs" fill="#1c1c1c">0.20</text>
<text class="fs" x="69.9" y="776.2" font-size="16" font-weight="bold" textLength="28" lengthAdjust="spacingAndGlyphs" fill="#1c1c1c">0.00</text>
<text class="fs" x="69.9" y="753.45" font-size="16" font-weight="bold" textLength="28" lengthAdjust="spacingAndGlyphs" fill="#1c1c1c">0.04</text>
<text class="fs" x="69.9" y="730.7" font-size="16" font-weight="bold" textLength="28" lengthAdjust="spacingAndGlyphs" fill="#1c1c1c">0.08</text>
<text class="fs" x="69.9" y="707.95" font-size="16" font-weight="bold" textLength="28" lengthAdjust="spacingAndGlyphs" fill="#1c1c1c">0.12</text>
<text class="fs" x="69.9" y="685.2" font-size="16" font-weight="bold" textLength="28" lengthAdjust="spacingAndGlyphs" fill="#1c1c1c">0.16</text>
<text class="fs" x="90.6" y="791.2" font-size="16" font-weight="bold" textLength="22.6" lengthAdjust="spacingAndGlyphs" fill="#1c1c1c">0.0</text>
<text class="fs" x="145.06" y="791.2" font-size="16" font-weight="bold" textLength="22.6" lengthAdjust="spacingAndGlyphs" fill="#1c1c1c">0.2</text>
<text class="fs" x="199.52" y="791.2" font-size="16" font-weight="bold" textLength="22.6" lengthAdjust="spacingAndGlyphs" fill="#1c1c1c">0.4</text>
<text class="fs" x="253.98" y="791.2" font-size="16" font-weight="bold" textLength="22.6" lengthAdjust="spacingAndGlyphs" fill="#1c1c1c">0.6</text>
<text class="fs" x="308.44" y="791.2" font-size="16" font-weight="bold" textLength="22.6" lengthAdjust="spacingAndGlyphs" fill="#1c1c1c">0.8</text>
<text class="fs" x="362.9" y="791.2" font-size="16" font-weight="bold" textLength="22.6" lengthAdjust="spacingAndGlyphs" fill="#1c1c1c">1.0</text>
<text class="fs" x="417.36" y="791.2" font-size="16" font-weight="bold" textLength="22.6" lengthAdjust="spacingAndGlyphs" fill="#1c1c1c">1.2</text>
<text class="fs" x="471.82" y="791.2" font-size="16" textLength="22.6" lengthAdjust="spacingAndGlyphs" stroke="#1c1c1c" stroke-width="0.4" fill="#1c1c1c">1.4</text>
<text class="fs" x="526.28" y="791.2" font-size="16" textLength="22.6" lengthAdjust="spacingAndGlyphs" stroke="#1c1c1c" stroke-width="0.4" fill="#1c1c1c">1.6</text>
<text class="fs" x="580.74" y="791.2" font-size="16" textLength="22.6" lengthAdjust="spacingAndGlyphs" stroke="#1c1c1c" stroke-width="0.4" fill="#1c1c1c">1.8</text>
<text class="fs" x="635.2" y="791.2" font-size="16" textLength="22.6" lengthAdjust="spacingAndGlyphs" stroke="#1c1c1c" stroke-width="0.4" fill="#1c1c1c">2.0</text>
<text class="fn" x="672.2" y="789.7" font-size="16.2" textLength="58.8" lengthAdjust="spacingAndGlyphs" stroke="#1c1c1c" stroke-width="0.6" fill="#1c1c1c">Q[m<tspan font-size="8.5" dy="-6.5">3</tspan><tspan dy="6.5">/h]</tspan></text>
<text class="fn" x="35.6" y="629.4" font-size="15.3" textLength="20.5" lengthAdjust="spacingAndGlyphs" stroke="#1c1c1c" stroke-width="0.85" fill="#1c1c1c">P2</text>
<text class="fn" x="74.2" y="629.4" font-size="15.3" textLength="21" lengthAdjust="spacingAndGlyphs" stroke="#1c1c1c" stroke-width="0.85" fill="#1c1c1c">P2</text>
<text class="fn" x="30.9" y="645.4" font-size="15.7" textLength="32.3" lengthAdjust="spacingAndGlyphs" stroke="#1c1c1c" stroke-width="0.75" fill="#1c1c1c">[Hp]</text>
<text class="fn" x="66" y="645.4" font-size="15.7" textLength="37.8" lengthAdjust="spacingAndGlyphs" stroke="#1c1c1c" stroke-width="0.75" fill="#1c1c1c">[KW]</text>
<text class="fn" x="677.9" y="650.8" font-size="15.5" textLength="52.1" lengthAdjust="spacingAndGlyphs" stroke="#1c1c1c" stroke-width="0.5" fill="#1c1c1c">Eta[%]</text>
<text class="fn" x="616.5" y="696.9" font-size="15" textLength="23.4" lengthAdjust="spacingAndGlyphs" stroke="#1c1c1c" stroke-width="0.5" fill="#1c1c1c">Eta</text>
<text class="fn" x="618" y="741" font-size="15" textLength="21.3" lengthAdjust="spacingAndGlyphs" stroke="#1c1c1c" stroke-width="0.5" fill="#1c1c1c">P2</text>
<text class="fs" x="707.3" y="774.1" font-size="16" font-weight="bold" textLength="8.2" lengthAdjust="spacingAndGlyphs" fill="#1c1c1c">0</text>
<text class="fs" x="703.2" y="753.9" font-size="16" font-weight="bold" textLength="16.5" lengthAdjust="spacingAndGlyphs" fill="#1c1c1c">10</text>
<text class="fs" x="703.2" y="731.6" font-size="16" font-weight="bold" textLength="16.5" lengthAdjust="spacingAndGlyphs" fill="#1c1c1c">20</text>
<text class="fs" x="703.2" y="709.4" font-size="16" font-weight="bold" textLength="16.5" lengthAdjust="spacingAndGlyphs" fill="#1c1c1c">30</text>
<text class="fs" x="703.2" y="687.1" font-size="16" font-weight="bold" textLength="16.5" lengthAdjust="spacingAndGlyphs" fill="#1c1c1c">40</text>
<path d="M101.4 962H698.16M101.4 945H698.16M101.4 928H698.16M101.4 911H698.16M101.4 894H698.16M101.4 877H698.16" fill="none" stroke="#2a2a2a" stroke-width="1.35"/>
<path d="M101.9 876.4V962.6M156.06 876.4V962.6M210.22 876.4V962.6M264.38 876.4V962.6M318.54 876.4V962.6M372.7 876.4V962.6M426.86 876.4V962.6M481.02 876.4V962.6M535.18 876.4V962.6M589.34 876.4V962.6M643.5 876.4V962.6M697.66 876.4V962.6" fill="none" stroke="#1c1c1c" stroke-width="1.35"/>
<path d="M101.75 876.4V962.6" fill="none" stroke="#0c0c0c" stroke-width="1.7"/>
<path d="M101.9 905.6C110.93 905.63 138.01 905.75 156.06 905.8C174.11 905.85 192.17 905.63 210.22 905.9C228.27 906.17 246.33 906.73 264.38 907.4C282.43 908.07 300.49 908.92 318.54 909.9C336.59 910.88 354.65 912.05 372.7 913.3C390.75 914.55 408.81 916.02 426.86 917.4C444.91 918.78 462.97 920.28 481.02 921.6C499.07 922.92 517.13 924.13 535.18 925.3C553.23 926.47 571.29 927.4 589.34 928.6C607.39 929.8 634.47 931.85 643.5 932.5" fill="none" stroke="#0a0a0a" stroke-width="1.2"/>
<path d="M101.9 905.6C110.93 905.63 138.01 905.75 156.06 905.8C174.11 905.85 192.17 905.63 210.22 905.9C228.27 906.17 246.33 906.73 264.38 907.4C282.43 908.07 300.49 908.92 318.54 909.9C336.59 910.88 354.65 912.05 372.7 913.3C390.75 914.55 408.81 916.02 426.86 917.4C444.91 918.78 462.97 920.28 481.02 921.6C499.07 922.92 517.13 924.13 535.18 925.3C553.23 926.47 571.29 927.4 589.34 928.6C607.39 929.8 634.47 931.85 643.5 932.5" fill="none" stroke="#0a0a0a" stroke-width="2.0" clip-path="url(#k4_20)"/>
<path d="M101.9 944.5C110.93 944.58 138.01 944.87 156.06 945C174.11 945.13 192.17 945.23 210.22 945.3C228.27 945.37 246.33 945.38 264.38 945.4C282.43 945.42 300.49 945.42 318.54 945.4C336.59 945.38 354.65 945.33 372.7 945.3C390.75 945.27 408.81 945.33 426.86 945.2C444.91 945.07 462.97 945.03 481.02 944.5C499.07 943.97 517.13 943.32 535.18 942C553.23 940.68 575.8 938.5 589.34 936.6C602.88 934.7 607.39 932.83 616.42 930.6C625.45 928.37 638.99 924.43 643.5 923.2" fill="none" stroke="#0a0a0a" stroke-width="1.2"/>
<path d="M101.9 944.5C110.93 944.58 138.01 944.87 156.06 945C174.11 945.13 192.17 945.23 210.22 945.3C228.27 945.37 246.33 945.38 264.38 945.4C282.43 945.42 300.49 945.42 318.54 945.4C336.59 945.38 354.65 945.33 372.7 945.3C390.75 945.27 408.81 945.33 426.86 945.2C444.91 945.07 462.97 945.03 481.02 944.5C499.07 943.97 517.13 943.32 535.18 942C553.23 940.68 575.8 938.5 589.34 936.6C602.88 934.7 607.39 932.83 616.42 930.6C625.45 928.37 638.99 924.43 643.5 923.2" fill="none" stroke="#0a0a0a" stroke-width="2.0" clip-path="url(#k4_20)"/>
<path d="M57.6 878.3V963.9M49.8 963.4H57.6M49.8 945.6H57.6M49.8 927.8H57.6M49.8 910H57.6M49.8 892.2H57.6" fill="none" stroke="#878787" stroke-width="1.4"/>
<text class="fs" x="36.2" y="968.9" font-size="16" font-weight="bold" textLength="8.4" lengthAdjust="spacingAndGlyphs" fill="#1c1c1c">0</text>
<text class="fs" x="32.2" y="951.4" font-size="16" font-weight="bold" textLength="16.9" lengthAdjust="spacingAndGlyphs" fill="#1c1c1c">20</text>
<text class="fs" x="32.2" y="933.9" font-size="16" font-weight="bold" textLength="16.9" lengthAdjust="spacingAndGlyphs" fill="#1c1c1c">40</text>
<text class="fs" x="32.2" y="916.4" font-size="16" font-weight="bold" textLength="16.9" lengthAdjust="spacingAndGlyphs" fill="#1c1c1c">60</text>
<text class="fs" x="32.2" y="898.9" font-size="16" font-weight="bold" textLength="16.9" lengthAdjust="spacingAndGlyphs" fill="#1c1c1c">80</text>
<text class="fs" x="87.4" y="968.5" font-size="16" font-weight="bold" textLength="7.8" lengthAdjust="spacingAndGlyphs" fill="#1c1c1c">0</text>
<text class="fs" x="87.4" y="951.6" font-size="16" font-weight="bold" textLength="7.8" lengthAdjust="spacingAndGlyphs" fill="#1c1c1c">2</text>
<text class="fs" x="87.4" y="934.7" font-size="16" font-weight="bold" textLength="7.8" lengthAdjust="spacingAndGlyphs" fill="#1c1c1c">4</text>
<text class="fs" x="87.4" y="917.8" font-size="16" font-weight="bold" textLength="7.8" lengthAdjust="spacingAndGlyphs" fill="#1c1c1c">6</text>
<text class="fs" x="87.4" y="900.9" font-size="16" font-weight="bold" textLength="7.8" lengthAdjust="spacingAndGlyphs" fill="#1c1c1c">8</text>
<text class="fs" x="90.6" y="983.2" font-size="16" font-weight="bold" textLength="22.6" lengthAdjust="spacingAndGlyphs" fill="#1c1c1c">0.0</text>
<text class="fs" x="145.06" y="983.2" font-size="16" font-weight="bold" textLength="22.6" lengthAdjust="spacingAndGlyphs" fill="#1c1c1c">0.2</text>
<text class="fs" x="199.52" y="983.2" font-size="16" font-weight="bold" textLength="22.6" lengthAdjust="spacingAndGlyphs" fill="#1c1c1c">0.4</text>
<text class="fs" x="253.98" y="983.2" font-size="16" font-weight="bold" textLength="22.6" lengthAdjust="spacingAndGlyphs" fill="#1c1c1c">0.6</text>
<text class="fs" x="308.44" y="983.2" font-size="16" font-weight="bold" textLength="22.6" lengthAdjust="spacingAndGlyphs" fill="#1c1c1c">0.8</text>
<text class="fs" x="362.9" y="983.2" font-size="16" font-weight="bold" textLength="22.6" lengthAdjust="spacingAndGlyphs" fill="#1c1c1c">1.0</text>
<text class="fs" x="417.36" y="983.2" font-size="16" font-weight="bold" textLength="22.6" lengthAdjust="spacingAndGlyphs" fill="#1c1c1c">1.2</text>
<text class="fs" x="471.82" y="983.2" font-size="16" textLength="22.6" lengthAdjust="spacingAndGlyphs" stroke="#1c1c1c" stroke-width="0.4" fill="#1c1c1c">1.4</text>
<text class="fs" x="526.28" y="983.2" font-size="16" textLength="22.6" lengthAdjust="spacingAndGlyphs" stroke="#1c1c1c" stroke-width="0.4" fill="#1c1c1c">1.6</text>
<text class="fs" x="580.74" y="983.2" font-size="16" textLength="22.6" lengthAdjust="spacingAndGlyphs" stroke="#1c1c1c" stroke-width="0.4" fill="#1c1c1c">1.8</text>
<text class="fs" x="635.2" y="983.2" font-size="16" textLength="22.6" lengthAdjust="spacingAndGlyphs" stroke="#1c1c1c" stroke-width="0.4" fill="#1c1c1c">2.0</text>
<text class="fn" x="672.2" y="981.3" font-size="16.2" textLength="58.8" lengthAdjust="spacingAndGlyphs" stroke="#1c1c1c" stroke-width="0.6" fill="#1c1c1c">Q[m<tspan font-size="8.5" dy="-6.5">3</tspan><tspan dy="6.5">/h]</tspan></text>
<text class="fn" x="39.6" y="852.2" font-size="15.3" textLength="30.5" lengthAdjust="spacingAndGlyphs" stroke="#1c1c1c" stroke-width="0.85" fill="#1c1c1c">Q-H</text>
<text class="fn" x="84.2" y="852.2" font-size="15.3" textLength="10.6" lengthAdjust="spacingAndGlyphs" stroke="#1c1c1c" stroke-width="0.85" fill="#1c1c1c">H</text>
<text class="fn" x="36.1" y="868.7" font-size="15.7" textLength="38.7" lengthAdjust="spacingAndGlyphs" stroke="#1c1c1c" stroke-width="0.75" fill="#1c1c1c">[kPa]</text>
<text class="fn" x="77.7" y="868.7" font-size="15.7" textLength="23.3" lengthAdjust="spacingAndGlyphs" stroke="#1c1c1c" stroke-width="0.75" fill="#1c1c1c">[M]</text>
<text class="fn" x="660.3" y="866.3" font-size="15.5" textLength="42.9" lengthAdjust="spacingAndGlyphs" stroke="#1c1c1c" stroke-width="0.5" fill="#1c1c1c">NPSH</text>
<text class="fn" x="708" y="866.3" font-size="15.5" textLength="22" lengthAdjust="spacingAndGlyphs" stroke="#1c1c1c" stroke-width="0.5" fill="#1c1c1c">[m]</text>
<text class="fn" x="116.8" y="892.1" font-size="16.3" textLength="106.4" lengthAdjust="spacing" stroke="#1c1c1c" stroke-width="0.35" fill="#1c1c1c" xml:space="preserve">QH 2900rpm</text>
<text class="fn" x="158.6" y="943.9" font-size="15.8" textLength="47.8" lengthAdjust="spacing" stroke="#1c1c1c" stroke-width="0.35" fill="#1c1c1c">NPSH</text>
<text class="fs" x="703.7" y="965.5" font-size="16" font-weight="bold" textLength="8.3" lengthAdjust="spacingAndGlyphs" fill="#1c1c1c">0</text>
<text class="fs" x="703.7" y="949" font-size="16" font-weight="bold" textLength="8.3" lengthAdjust="spacingAndGlyphs" fill="#1c1c1c">1</text>
<text class="fs" x="703.7" y="932.5" font-size="16" font-weight="bold" textLength="8.3" lengthAdjust="spacingAndGlyphs" fill="#1c1c1c">2</text>
<text class="fs" x="703.7" y="916" font-size="16" font-weight="bold" textLength="8.3" lengthAdjust="spacingAndGlyphs" fill="#1c1c1c">3</text>
<text class="fs" x="703.7" y="899.5" font-size="16" font-weight="bold" textLength="8.3" lengthAdjust="spacingAndGlyphs" fill="#1c1c1c">4</text>
</g>
</svg>
</body></html>
